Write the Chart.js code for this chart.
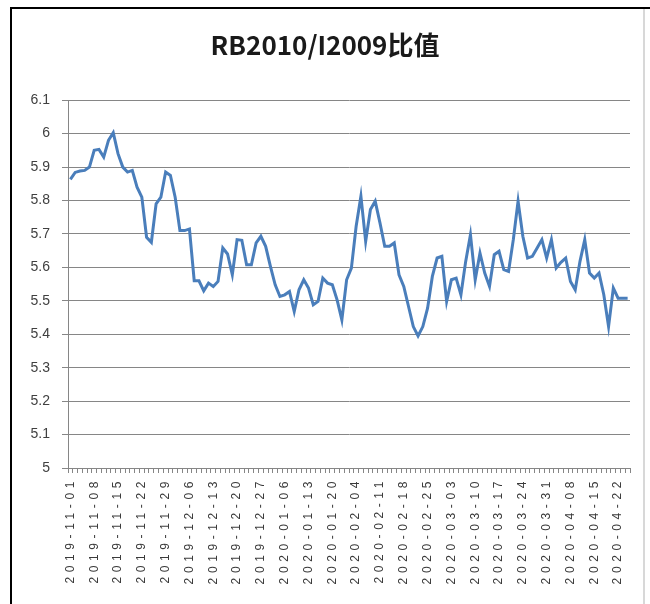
<!DOCTYPE html>
<html>
<head>
<meta charset="utf-8">
<script src="https://cdn.jsdelivr.net/npm/chart.js@4.4.1/dist/chart.umd.min.js"></script>
<style>
    html, body { margin: 0; padding: 0; background: #fff; }
    #wrap { position: relative; width: 650px; height: 604px; overflow: hidden; }
    #frame { position: absolute; left: 10px; top: 7px; width: 631px; height: 620px;
             border-left: 2px solid #000; border-top: 2px solid #000; border-right: 2px solid #d8d8d8; }
    #topline { position: absolute; left: 10px; top: 7px; width: 640px; height: 2px; background: #000; }
    #ratioChart { position: absolute; left: 0; top: 0; }
</style>
</head>
<body>
<div id="wrap">
    <div id="frame"></div>
    <div id="topline"></div>
    <canvas id="ratioChart" width="650" height="604"></canvas>
</div>
<script>
// trading days, 2019-11-01 .. 2020-04-24
const dates = [
    '2019-11-01', '2019-11-04', '2019-11-05', '2019-11-06', '2019-11-07', '2019-11-08',
    '2019-11-11', '2019-11-12', '2019-11-13', '2019-11-14', '2019-11-15',
    '2019-11-18', '2019-11-19', '2019-11-20', '2019-11-21', '2019-11-22',
    '2019-11-25', '2019-11-26', '2019-11-27', '2019-11-28', '2019-11-29',
    '2019-12-02', '2019-12-03', '2019-12-04', '2019-12-05', '2019-12-06',
    '2019-12-09', '2019-12-10', '2019-12-11', '2019-12-12', '2019-12-13',
    '2019-12-16', '2019-12-17', '2019-12-18', '2019-12-19', '2019-12-20',
    '2019-12-23', '2019-12-24', '2019-12-25', '2019-12-26', '2019-12-27',
    '2019-12-30', '2019-12-31', '2020-01-02', '2020-01-03', '2020-01-06',
    '2020-01-07', '2020-01-08', '2020-01-09', '2020-01-10', '2020-01-13',
    '2020-01-14', '2020-01-15', '2020-01-16', '2020-01-17', '2020-01-20',
    '2020-01-21', '2020-01-22', '2020-01-23', '2020-02-03', '2020-02-04',
    '2020-02-05', '2020-02-06', '2020-02-07', '2020-02-10', '2020-02-11',
    '2020-02-12', '2020-02-13', '2020-02-14', '2020-02-17', '2020-02-18',
    '2020-02-19', '2020-02-20', '2020-02-21', '2020-02-24', '2020-02-25',
    '2020-02-26', '2020-02-27', '2020-02-28', '2020-03-02', '2020-03-03',
    '2020-03-04', '2020-03-05', '2020-03-06', '2020-03-09', '2020-03-10',
    '2020-03-11', '2020-03-12', '2020-03-13', '2020-03-16', '2020-03-17',
    '2020-03-18', '2020-03-19', '2020-03-20', '2020-03-23', '2020-03-24',
    '2020-03-25', '2020-03-26', '2020-03-27', '2020-03-30', '2020-03-31',
    '2020-04-01', '2020-04-02', '2020-04-03', '2020-04-07', '2020-04-08',
    '2020-04-09', '2020-04-10', '2020-04-13', '2020-04-14', '2020-04-15',
    '2020-04-16', '2020-04-17', '2020-04-20', '2020-04-21', '2020-04-22',
    '2020-04-23', '2020-04-24'
];

const ratio = [
    5.863, 5.884, 5.888, 5.890, 5.900, 5.950, 5.953, 5.930, 5.980, 6.003,
    5.940, 5.900, 5.885, 5.890, 5.840, 5.810, 5.690, 5.675, 5.790, 5.810,
    5.885, 5.875, 5.810, 5.710, 5.710, 5.715, 5.560, 5.560, 5.530, 5.553,
    5.543, 5.558, 5.658, 5.640, 5.578, 5.683, 5.681, 5.608, 5.608, 5.673,
    5.693, 5.663, 5.603, 5.548, 5.513, 5.518, 5.528, 5.468, 5.533, 5.563,
    5.538, 5.488, 5.498, 5.568, 5.553, 5.548, 5.503, 5.443, 5.563, 5.598,
    5.723, 5.813, 5.678, 5.773, 5.798, 5.733, 5.663, 5.663, 5.673, 5.578,
    5.543, 5.483, 5.423, 5.395, 5.423, 5.478, 5.573, 5.628, 5.633, 5.498,
    5.563, 5.568, 5.518, 5.618, 5.698, 5.563, 5.643, 5.583, 5.543, 5.638,
    5.648, 5.593, 5.588, 5.683, 5.798, 5.693, 5.628, 5.633, 5.658, 5.683,
    5.628, 5.683, 5.598, 5.615, 5.628, 5.558, 5.533, 5.618, 5.683, 5.583,
    5.568, 5.583, 5.518, 5.423, 5.538, 5.508, 5.508, 5.508
];

const yMin = 5;
const yMax = 6.1;
const labelEvery = 5;

// the excel labels are widely spaced, so draw the x labels with letter spacing
const spacedLabels = {
    id: 'spacedLabels',
    beforeDraw(chart) {
        const xs = chart.scales.x;
        if (xs._spaced) return;
        const orig = xs.drawLabels;
        xs.drawLabels = function (area) {
            this.ctx.save();
            this.ctx.letterSpacing = '4.6px';
            orig.call(this, area);
            this.ctx.restore();
        };
        xs._spaced = true;
    }
};

const gridGray = '#868686';

const ratioConfig = {
    type: 'line',
    data: {
        labels: dates,
        datasets: [{
            label: 'RB2010/I2009比值',
            data: ratio,
            borderColor: '#4a7ebb',
            borderWidth: 3,
            pointRadius: 0,
            tension: 0,
            fill: false
        }]
    },
    options: {
        responsive: false,
        animation: false,
        layout: {
            padding: { top: 20, right: 20, bottom: 0, left: 20 }
        },
        plugins: {
            legend: { display: false },
            tooltip: { enabled: false },
            title: {
                display: true,
                text: 'RB2010/I2009比值',
                color: '#1a1a1a',
                font: { family: '"Noto Sans CJK SC", "Liberation Sans", sans-serif', size: 26, weight: 'bold' },
                padding: { top: 10, bottom: 39 }
            }
        },
        scales: {
            x: {
                offset: true,
                grid: {
                    offset: true,
                    drawOnChartArea: false,
                    drawTicks: true,
                    tickLength: 5,
                    color: gridGray
                },
                border: { color: gridGray },
                ticks: {
                    autoSkip: false,
                    minRotation: 90,
                    maxRotation: 90,
                    padding: 4,
                    color: '#3a3a3a',
                    font: { family: '"Liberation Sans", Arial, sans-serif', size: 12 },
                    callback: (v, i) => i % labelEvery === 0 ? dates[i] : ''
                },
                afterFit: (scale) => { scale.height = 136; }
            },
            y: {
                min: yMin,
                max: yMax,
                grid: {
                    color: gridGray,
                    drawTicks: true,
                    tickLength: 6
                },
                border: { color: gridGray },
                ticks: {
                    stepSize: 0.1,
                    padding: 12,
                    color: '#404040',
                    font: { family: '"Liberation Sans", Arial, sans-serif', size: 14 },
                    callback: (v) => String(Math.round(v * 10) / 10)
                },
                afterFit: (scale) => { scale.width = 48; }
            }
        }
    },
    plugins: [spacedLabels]
};

const ratioChart = new Chart(document.getElementById('ratioChart'), ratioConfig);
</script>
</body>
</html>
